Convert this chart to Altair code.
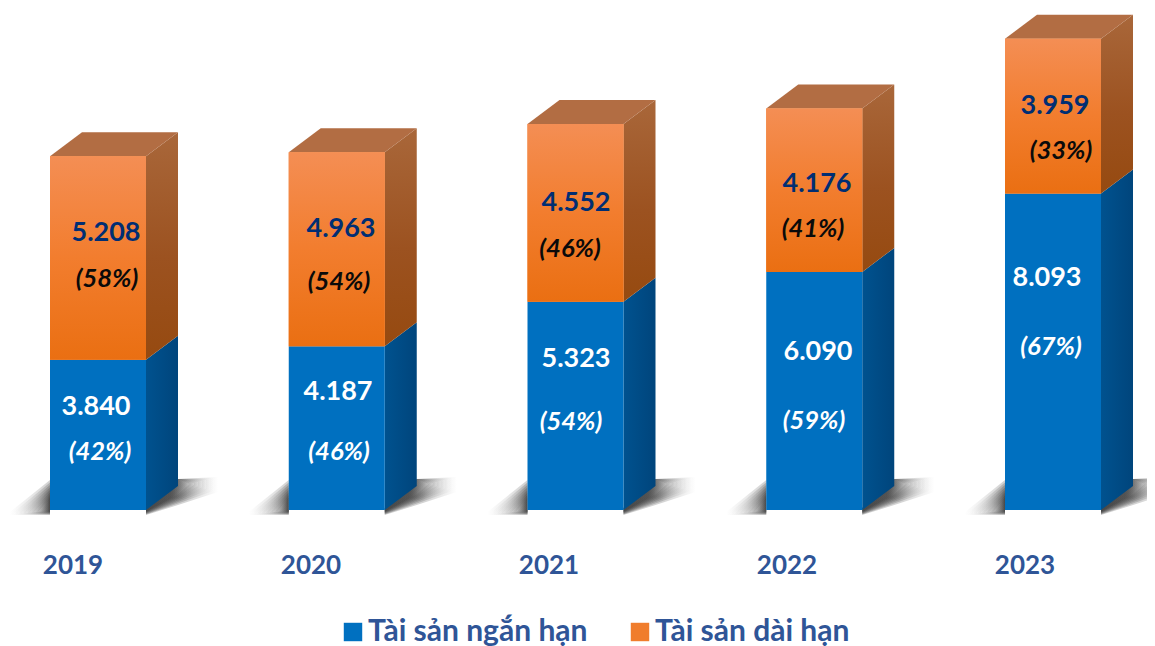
import altair as alt
import pandas as pd

# --- chart values ---
years = ["2019", "2020", "2021", "2022", "2023"]
short_term = [3840, 4187, 5323, 6090, 8093]
long_term = [5208, 4963, 4552, 4176, 3959]
short_pct = ["(42%)", "(46%)", "(54%)", "(59%)", "(67%)"]
long_pct = ["(58%)", "(54%)", "(46%)", "(41%)", "(33%)"]
series_names = ["Tài sản ngắn hạn", "Tài sản dài hạn"]

# --- layout (page pixels) ---
W, H = 1139, 638
BASE_PX = 510
PX_PER_VALUE = 0.0391
FIRST_CENTER, STEP = 98, 238.75
HALF, DX, DY = 48, 32, 24
FONT = "Lato"
TEXT_SHIFT = 1

# label centres in page pixels, one per year
short_num_pos = [(96, 406), (338, 391), (576, 358), (818, 351), (1047, 277)]
short_pct_pos = [(100, 451), (339, 451), (571, 421), (814, 420), (1051, 346)]
long_num_pos = [(106, 232), (341, 228), (576, 202), (817, 183), (1055, 105)]
long_pct_pos = [(107, 278), (339, 281), (570, 248), (813, 228), (1061, 150)]
year_pos = [(73, 565), (311, 565), (549, 565), (787, 565), (1025, 565)]


def ux(px):
    return (px - FIRST_CENTER) / STEP


def uy(py):
    return (BASE_PX - py) / PX_PER_VALUE


ddx = DX / STEP
ddy = DY / PX_PER_VALUE
hw = HALF / STEP

x_scale = alt.Scale(domain=[ux(8), ux(8 + W)], nice=False, zero=False)
y_scale = alt.Scale(domain=[uy(8 + H), uy(8)], nice=False, zero=False)
X = alt.X("x:Q", axis=None, scale=x_scale)
Y = alt.Y("y:Q", axis=None, scale=y_scale)


def grad(stops, x1=0, y1=0, x2=0, y2=1):
    return alt.Gradient(
        gradient="linear", x1=x1, y1=y1, x2=x2, y2=y2,
        stops=[alt.GradientStop(offset=o, color=c) for o, c in stops],
    )


# front faces
fronts = []
for i, y_ in enumerate(years):
    fronts.append(dict(x=i - hw, x2=i + hw, y=0, y2=short_term[i], s=series_names[0]))
    fronts.append(dict(x=i - hw, x2=i + hw, y=short_term[i],
                       y2=short_term[i] + long_term[i], s=series_names[1]))
front_df = pd.DataFrame(fronts)

color = alt.Color(
    "s:N",
    scale=alt.Scale(domain=series_names, range=["#0070C0", "#F07D2C"]),
    legend=alt.Legend(
        title=None, orient="none", legendX=330, legendY=609, direction="horizontal",
        symbolType="square", symbolSize=340, symbolOpacity=1, symbolStrokeWidth=0,
        labelFont=FONT, labelFontSize=30, labelFontWeight="bold", labelColor="#2F5597",
        columnPadding=37, labelOffset=0, labelLimit=400, columns=2,
    ),
)
front = alt.Chart(front_df).mark_bar(stroke=None).encode(
    x=X, x2="x2:Q", y=Y, y2="y2:Q", color=color
)
front_orange = alt.Chart(front_df[front_df.s == series_names[1]]).mark_bar(
    fill=grad([(0, "#F48E54"), (0.5, "#F27D2E"), (1, "#EA6F12")])
).encode(x=X, x2="x2:Q", y=Y, y2="y2:Q")


# side faces
def side_rows(lo, hi):
    rows = []
    for i in range(len(years)):
        xl = i + hw
        rows.append(dict(g=i, x=xl, y=lo[i], y2=hi[i]))
        rows.append(dict(g=i, x=xl + ddx, y=lo[i] + ddy, y2=hi[i] + ddy))
    return pd.DataFrame(rows)


totals = [a + b for a, b in zip(short_term, long_term)]
side_blue = alt.Chart(side_rows([0] * 5, short_term)).mark_area(
    fill=grad([(0, "#00528F"), (1, "#00457C")], x1=0, x2=1, y1=0, y2=0)
).encode(x=X, y=Y, y2="y2:Q", detail="g:N")
side_orange = alt.Chart(side_rows(short_term, totals)).mark_area(
    fill=grad([(0, "#A9673A"), (0.55, "#9C5220"), (1, "#964A10")])
).encode(x=X, y=Y, y2="y2:Q", detail="g:N")

# top faces
top_rows = []
for i, t in enumerate(totals):
    top_rows.append(dict(g=i, x=i - hw, y=t, y2=t))
    top_rows.append(dict(g=i, x=i - hw + ddx, y=t, y2=t + ddy))
    top_rows.append(dict(g=i, x=i + hw, y=t, y2=t + ddy))
    top_rows.append(dict(g=i, x=i + hw + ddx, y=t + ddy, y2=t + ddy))
top = alt.Chart(pd.DataFrame(top_rows)).mark_area(color="#B26D43").encode(
    x=X, y=Y, y2="y2:Q", detail="g:N"
)

# floor shadows: stacked translucent shapes imitate the soft blur
shadow_layers = []
for k in range(8):
    left_rows, right_rows = [], []
    for i in range(5):
        c = FIRST_CENTER + STEP * i
        l, r = c - HALF, c + HALF
        for ox, t, b in [(-40 + 4 * k, 512, 515 - 0.5 * k), (0, 480 + 2.5 * k, 515 - 0.5 * k)]:
            left_rows.append(dict(g=i, x=ux(l + ox), y=uy(t), y2=uy(b)))
        for ox, t, b in [(0, 508, 515 - 0.5 * k), (DX, 479, 505 - 1.5 * k),
                         (72 - 4 * k, 477 + k, 492 - 1.2 * k)]:
            right_rows.append(dict(g=i, x=ux(r + ox), y=uy(t), y2=uy(b)))
    shadow_layers.append(alt.Chart(pd.DataFrame(left_rows)).mark_area(
        opacity=0.22,
        fill=grad([(0, "#FFFFFF"), (0.45, "#AAAAAA"), (1, "#2A2A2A")], x1=0, x2=1, y1=0, y2=0)
    ).encode(x=X, y=Y, y2="y2:Q", detail="g:N"))
    shadow_layers.append(alt.Chart(pd.DataFrame(right_rows)).mark_area(
        opacity=0.22,
        fill=grad([(0, "#2A2A2A"), (0.55, "#3A3A3A"), (1, "#FFFFFF")], x1=0, x2=1, y1=0, y2=0)
    ).encode(x=X, y=Y, y2="y2:Q", detail="g:N"))


# text
def text_df(labels, pos):
    return pd.DataFrame(
        dict(t=labels, x=[ux(p[0]) for p in pos], y=[uy(p[1] + TEXT_SHIFT) for p in pos])
    )


def fmt(v):
    return f"{v:,}".replace(",", ".")


def text_layer(labels, pos, col, size=27, italic=False, weight="bold"):
    kw = dict(font=FONT, fontSize=size, fontWeight=weight, color=col,
              align="center", baseline="middle")
    if italic:
        kw["fontStyle"] = "italic"
    return alt.Chart(text_df(labels, pos)).mark_text(**kw).encode(x=X, y=Y, text="t:N")


layers = shadow_layers + [
    side_blue, side_orange, top, front, front_orange,
    text_layer([fmt(v) for v in short_term], short_num_pos, "#FFFFFF"),
    text_layer(short_pct, short_pct_pos, "#FFFFFF", size=25.5, italic=True),
    text_layer([fmt(v) for v in long_term], long_num_pos, "#002E73"),
    text_layer(long_pct, long_pct_pos, "#0A0A0A", size=25.5, italic=True),
    text_layer(years, year_pos, "#2F5597", size=26),
]

chart = alt.layer(*layers).properties(
    width=W, height=H, padding=0, autosize=alt.AutoSizeParams(type="none")
).configure_view(stroke=None)

chart.save("out.html", embed_options={"renderer": "svg", "actions": False})
